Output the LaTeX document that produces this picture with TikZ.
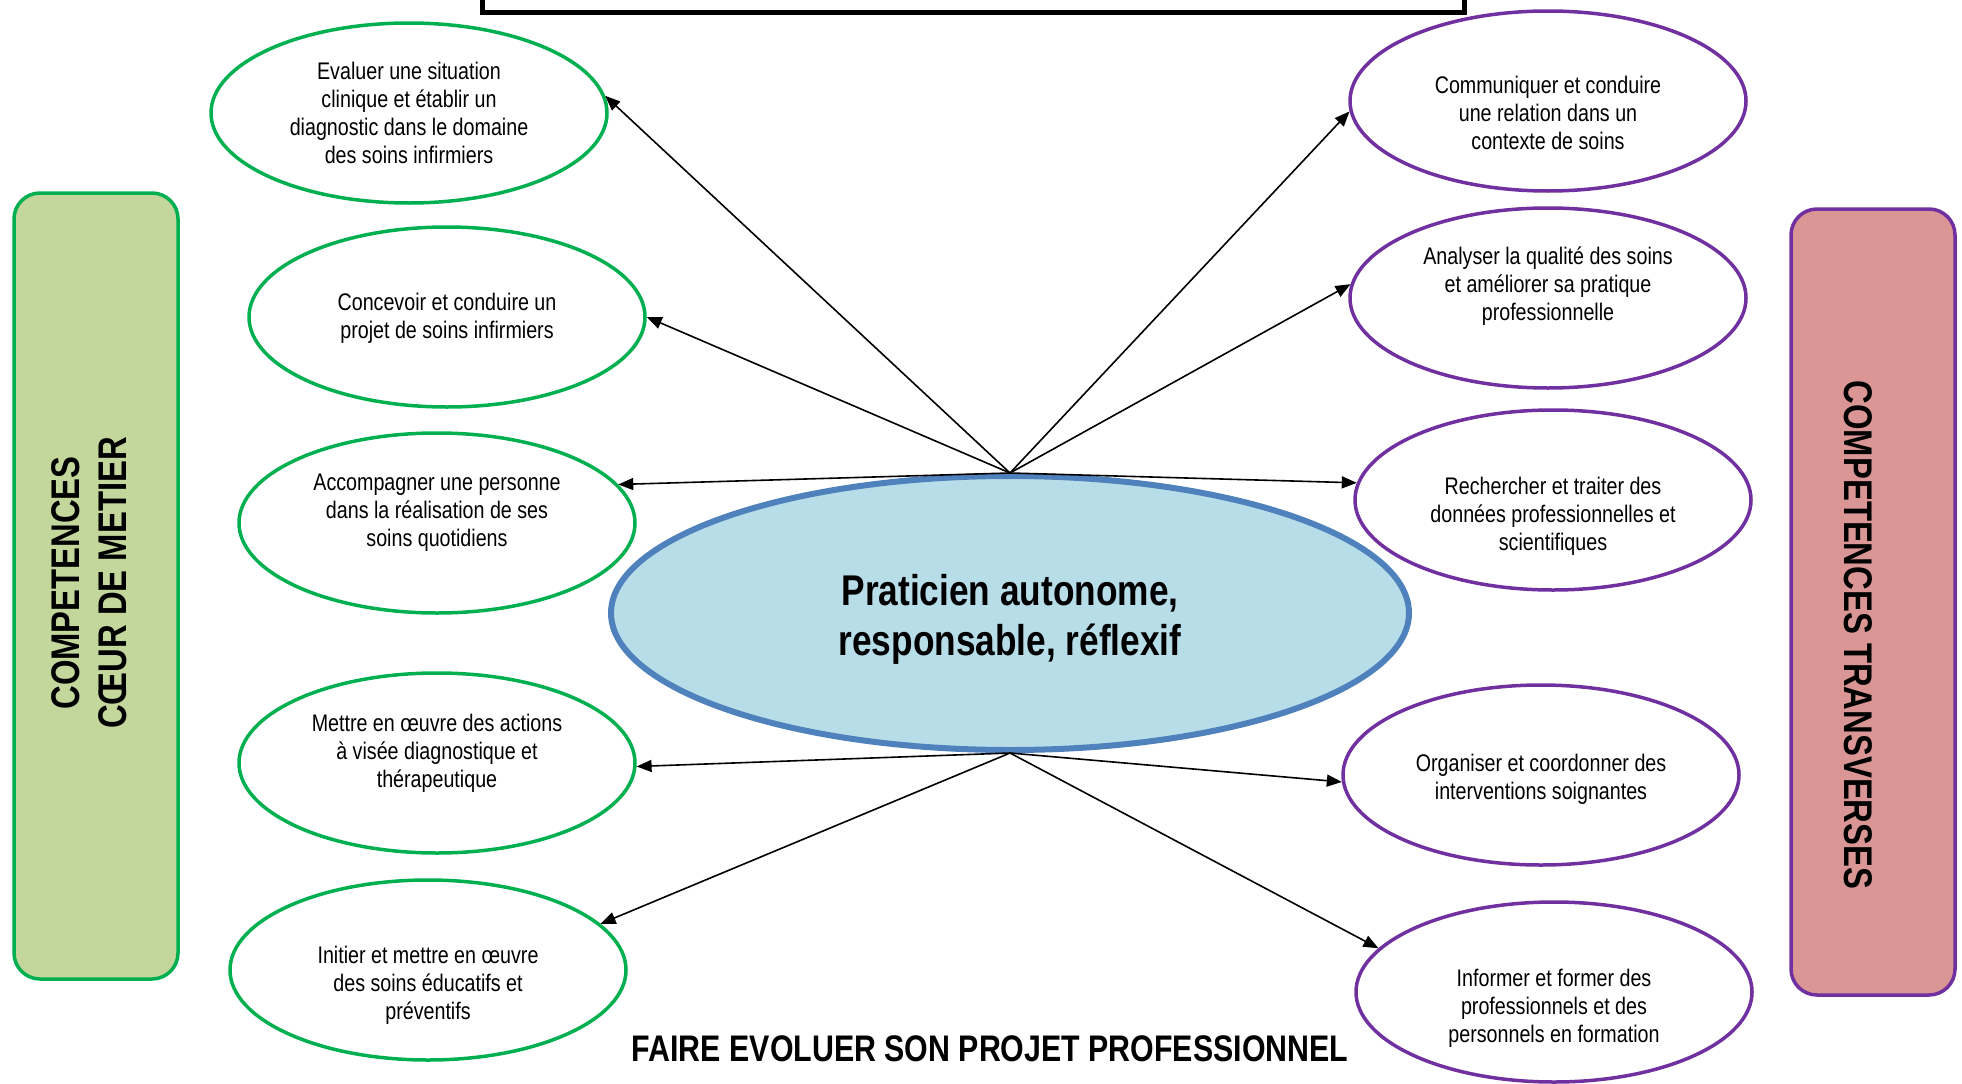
\documentclass[tikz,border=0pt]{standalone}
\usepackage{fontspec}
\setmainfont[FakeStretch=0.82]{Liberation Sans}
\usetikzlibrary{shapes.geometric,arrows.meta}
\definecolor{vert}{HTML}{00B050}
\definecolor{violet}{HTML}{7030A0}
\definecolor{bleu}{HTML}{4F81BD}
\definecolor{bleuclair}{HTML}{B7DDE8}
\definecolor{olive}{HTML}{C3D69B}
\definecolor{rose}{HTML}{D99694}

\begin{document}
\begin{tikzpicture}[x=1pt,y=-1pt,
   comp/.style={ellipse,draw,line width=3.5pt,fill=white,minimum width=396pt,
      minimum height=180pt,inner sep=0pt},
   texte/.style={align=center,inner sep=0pt,font=\fontsize{24}{28}\selectfont},
   coeur/.style={comp,draw=vert},
   transv/.style={comp,draw=violet},
   barre/.style={rectangle,rounded corners=26pt,line width=3.5pt,
      minimum width=786pt,minimum height=164pt},
   titre/.style={font=\bfseries\fontsize{40}{47}\selectfont,align=center},
   fleche/.style={-{Triangle[length=15pt,width=12pt]},line width=1.6pt}]
\useasboundingbox (0,0) rectangle (1962,1084);

% cadre du haut
\draw[line width=5pt] (482,0) -- (482,12) -- (1464,12) -- (1464,0);

% bandeaux lateraux
\node[barre,rotate=90,draw=vert,fill=olive] (gauche) at (96,586) {};
\node[titre,rotate=90] (tgauche) at (89,583) {COMPETENCES\\CŒUR DE METIER};
\node[barre,rotate=-90,draw=violet,fill=rose] (droite) at (1873,602) {};
\node[titre,rotate=-90] (tdroite) at (1858,635) {COMPETENCES TRANSVERSES};

% competences coeur de metier
\node[coeur,label={[texte]center:{Evaluer une situation\\clinique et établir un\\diagnostic dans le domaine\\des soins infirmiers}}] (evaluer) at (409,113) {};
\node[coeur,label={[texte,yshift=-1pt]center:{Concevoir et conduire un\\projet de soins infirmiers}}] (concevoir) at (447,317) {};
\node[coeur,label={[texte,yshift=10pt]center:{Accompagner une personne\\dans la réalisation de ses\\soins quotidiens}}] (accompagner) at (437,523) {};
\node[coeur,label={[texte,yshift=10pt]center:{Mettre en œuvre des actions\\à visée diagnostique et\\thérapeutique}}] (mettre) at (437,763) {};
\node[coeur,label={[texte,yshift=-15pt]center:{Initier et mettre en œuvre\\des soins éducatifs et\\préventifs}}] (initier) at (428,970) {};

% competences transverses
\node[transv,label={[texte,yshift=-12pt]center:{Communiquer et conduire\\une relation dans un\\contexte de soins}}] (communiquer) at (1548,101) {};
\node[transv,label={[texte,yshift=12pt]center:{Analyser la qualité des soins\\et améliorer sa pratique\\professionnelle}}] (analyser) at (1548,298) {};
\node[transv,label={[texte,yshift=-16pt]center:{Rechercher et traiter des\\données professionnelles et\\scientifiques}}] (rechercher) at (1553,500) {};
\node[transv,label={[texte,yshift=-4pt]center:{Organiser et coordonner des\\interventions soignantes}}] (organiser) at (1541,775) {};
\node[transv,label={[texte,yshift=-16pt]center:{Informer et former des\\professionnels et des\\personnels en formation}}] (informer) at (1554,992) {};

% centre
\node[ellipse,draw=bleu,fill=bleuclair,line width=6pt,minimum width=798pt,minimum height=274pt,
   label={[align=center,yshift=-6pt,font=\bfseries\fontsize{43}{50}\selectfont]center:{Praticien autonome,\\responsable, réflexif}}]
   (praticien) at (1010,613) {};

\node[font=\bfseries\fontsize{37}{42}\selectfont] (projet) at (990,1049) {FAIRE EVOLUER SON PROJET PROFESSIONNEL};

% fleches
\draw[fleche] (praticien.north) -- (evaluer.5);
\draw[fleche] (praticien.north) -- (concevoir.east);
\draw[fleche] (praticien.north) -- (accompagner.12);
\draw[fleche] (praticien.north) -- (communiquer.183);
\draw[fleche] (praticien.north) -- (analyser.176);
\draw[fleche] (praticien.north) -- (rechercher.175);
\draw[fleche] (praticien.south) -- (mettre.-1);
\draw[fleche] (praticien.south) -- (initier.15);
\draw[fleche] (praticien.south) -- (organiser.182);
\draw[fleche] (praticien.south) -- (informer.166);
\end{tikzpicture}
\end{document}
